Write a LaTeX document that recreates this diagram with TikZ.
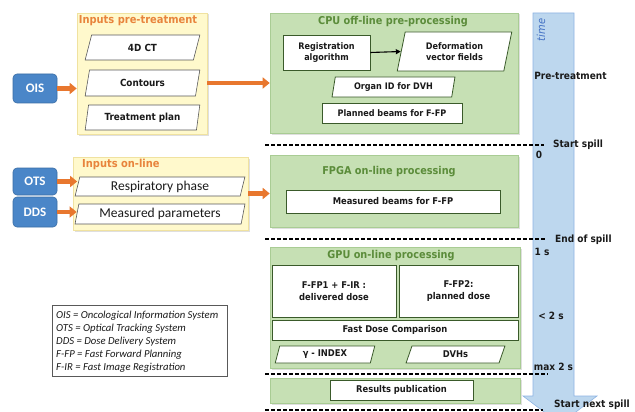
\documentclass[tikz,border=0pt]{standalone}
\usepackage{fontspec}
\setmainfont{DejaVu Sans Condensed}
\newfontfamily\calfont{Carlito}
\usetikzlibrary{shapes.geometric,arrows.meta,shadows}

\definecolor{srcblue}{HTML}{4A86C8}
\definecolor{srcline}{HTML}{3A6EA5}
\definecolor{feedorange}{HTML}{E8772E}
\definecolor{ytitle}{HTML}{E8843C}
\definecolor{yfill}{HTML}{FFF9CC}
\definecolor{yline}{HTML}{F0E2A0}
\definecolor{gfill}{HTML}{C6E0B4}
\definecolor{gline}{HTML}{A9CC94}
\definecolor{gtitle}{HTML}{5B8C3A}
\definecolor{boxline}{HTML}{3A5A2A}
\definecolor{timefill}{HTML}{BDD7EE}
\definecolor{timeline}{HTML}{8EB4E3}
\definecolor{timetext}{HTML}{4472C4}
\definecolor{txt}{HTML}{1A1A1A}

\tikzset{
  panel/.style={rectangle, inner sep=0pt,
    drop shadow={opacity=0.25, shadow xshift=1.5pt, shadow yshift=-1.5pt}},
  greenpanel/.style={panel, fill=gfill, draw=gline, line width=0.6pt},
  yellowpanel/.style={panel, fill=yfill, draw=yline, line width=0.6pt},
  gtitlestyle/.style={text=gtitle, font=\bfseries\fontsize{10.8}{13}\selectfont, inner sep=0pt},
  ytitlestyle/.style={text=ytitle, font=\bfseries\fontsize{11}{13}\selectfont, inner sep=0pt},
  boxfont/.style={font=\bfseries\fontsize{9.3}{11.5}\selectfont},
  whitebox/.style={rectangle, draw=boxline, fill=white, line width=0.8pt,
    text=txt, boxfont, align=center, inner sep=1pt},
  slantbox/.style={trapezium, trapezium left angle=76, trapezium right angle=104,
    trapezium stretches=true, draw=boxline, fill=white, line width=0.8pt,
    text=txt, boxfont, align=center, inner sep=0pt},
  cpufont/.style={font=\bfseries\fontsize{9}{11.5}\selectfont},
  inslant/.style={slantbox, draw=black!65, line width=0.6pt,
    font=\bfseries\fontsize{9.8}{12}\selectfont},
  inslantcal/.style={inslant, font=\calfont\fontsize{13.5}{15}\selectfont},
  srcbox/.style={rectangle, rounded corners=4pt, fill=srcblue, draw=srcline,
    line width=0.6pt, text=white, font=\calfont\bfseries\fontsize{13}{15}\selectfont,
    minimum width=44pt, inner sep=0pt},
  feed/.style={draw=feedorange, line width=4.5pt,
    -{Triangle[length=7pt,width=11pt]}},
  thin link/.style={draw=black, line width=1.1pt, -{Triangle[length=5pt,width=5pt]}},
  spill/.style={draw=black, line width=1.2pt, dash pattern=on 4pt off 2pt},
  timelabel/.style={text=txt, font=\bfseries\fontsize{10}{12}\selectfont, inner sep=0pt},
  legendtext/.style={font=\calfont\itshape\fontsize{10.7}{13}\selectfont, text=txt,
    align=left, inner sep=0pt, anchor=west}
}

\begin{document}
\begin{tikzpicture}[x=1pt,y=-1pt]
\useasboundingbox (0,0) rectangle (635,412);
\fill[white] (0,0) rectangle (635,412);

% time axis
\filldraw[fill=timefill, draw=timeline, line width=0.6pt]
  (533,13) -- (574,13) -- (574,396) -- (597,396) -- (560,424)
  -- (523,396) -- (533,396) -- cycle;
\node[rotate=90, text=timetext, font=\itshape\fontsize{11}{13}\selectfont, inner sep=0pt]
  (timelbl) at (541,30) {time};

% pre-treatment inputs
\node[yellowpanel, minimum width=130pt, minimum height=121pt] (prepanel) at (142,73.5) {};
\node[ytitlestyle] (pretitle) at (138,20.5) {Inputs pre-treatment};
\node[inslant, minimum width=115pt, minimum height=25pt] (ct) at (142.5,47.5) {4D CT};
\node[inslant, minimum width=115pt, minimum height=26pt] (contours) at (142.5,83) {Contours};
\node[inslant, minimum width=115pt, minimum height=25pt] (plan) at (142.5,117.5) {Treatment plan};
\node[srcbox, minimum height=29pt] (ois) at (35,88.5) {OIS};

% CPU off-line pre-processing
\node[greenpanel, minimum width=248pt, minimum height=120pt] (cpu) at (394,73) {};
\node[gtitlestyle] (cputitle) at (393,22) {CPU off-line pre-processing};
\node[whitebox, cpufont, minimum width=87pt, minimum height=35pt] (reg) at (326.5,52.5)
  {Registration\\algorithm};
\node[slantbox, cpufont, minimum width=115pt, minimum height=39pt] (dvf) at (454.5,51.5)
  {Deformation\\vector fields};
\node[slantbox, cpufont, minimum width=123pt, minimum height=20pt] (organ) at (393.5,87)
  {Organ ID for DVH};
\node[whitebox, cpufont, minimum width=140pt, minimum height=20pt] (planned) at (392,113)
  {Planned beams for F-FP};

% on-line inputs
\node[yellowpanel, minimum width=175pt, minimum height=73pt] (onpanel) at (160.5,193.5) {};
\node[ytitlestyle, anchor=west] (ontitle) at (82,164) {Inputs on-line};
\node[inslantcal, minimum width=170pt, minimum height=19pt] (resp) at (160,186.5)
  {Respiratory phase};
\node[inslantcal, minimum width=170pt, minimum height=20pt] (meas) at (160,214)
  {Measured parameters};
\node[srcbox, minimum height=27pt] (ots) at (35,181.5) {OTS};
\node[srcbox, minimum height=30pt] (dds) at (35,212) {DDS};

% FPGA on-line processing
\node[greenpanel, minimum width=248pt, minimum height=72pt] (fpga) at (394,191) {};
\node[gtitlestyle] (fpgatitle) at (389,172) {FPGA on-line processing};
\node[whitebox, minimum width=214pt, minimum height=23pt] (mbeams) at (393,201.5)
  {Measured beams for F-FP};

% GPU on-line processing
\node[greenpanel, minimum width=250pt, minimum height=121pt] (gpu) at (395,307.5) {};
\node[gtitlestyle] (gputitle) at (391,256) {GPU on-line processing};
\node[whitebox, minimum width=124pt, minimum height=52pt] (ffp1) at (334,291)
  {F-FP1 + F-IR :\\delivered dose};
\node[whitebox, minimum width=119pt, minimum height=52pt] (ffp2) at (458.5,291)
  {F-FP2:\\planned dose};
\node[whitebox, minimum width=246pt, minimum height=20pt] (fdc) at (395,330)
  {Fast Dose Comparison};
\node[slantbox, minimum width=100pt, minimum height=17pt] (gamma) at (325,354.5)
  {γ - INDEX};
\node[slantbox, minimum width=99pt, minimum height=17pt] (dvh) at (455.5,354.5)
  {DVHs};

% results
\node[greenpanel, minimum width=250pt, minimum height=25pt] (respanel) at (395,390.5) {};
\node[whitebox, minimum width=143pt, minimum height=20pt] (pub) at (401.5,390)
  {Results publication};

% feeds
\draw[feed] (ois.east) -- (ois.east -| prepanel.west);
\draw[feed] (contours -| prepanel.east) -- (contours -| cpu.west);
\draw[feed] (ots.east) -- (ots.east -| resp.west);
\draw[feed] (dds.east) -- (dds.east -| meas.west);
\draw[feed] (onpanel.east) -- (onpanel.east -| fpga.west);
\draw[thin link] (reg.east) -- (dvf.west);

% spill markers
\coordinate (s1a) at (265,145);  \coordinate (s1b) at (544,145);
\coordinate (s2a) at (265,239);  \coordinate (s2b) at (546,239);
\coordinate (s3a) at (265,374);  \coordinate (s3b) at (548,374);
\coordinate (s4a) at (265,410);  \coordinate (s4b) at (543,410);
\draw[spill] (s1a) -- (s1b);
\draw[spill] (s2a) -- (s2b);
\draw[spill] (s3a) -- (s3b);
\draw[spill] (s4a) -- (s4b);

% time labels
\node[timelabel] (lpre) at (570.5,76) {Pre-treatment};
\node[timelabel, anchor=west] (lstart) at (553,145) {Start spill};
\node[timelabel] (lzero) at (539,155) {0};
\node[timelabel, anchor=west] (lend) at (555,240) {End of spill};
\node[timelabel] (lone) at (542,252) {1 s};
\node[timelabel] (lless) at (551,316) {< 2 s};
\node[timelabel] (lmax) at (553.5,367) {max 2 s};
\node[timelabel, anchor=west] (lnext) at (554,404.5) {Start next spill};

% legend
\node[rectangle, draw=black!65, line width=0.6pt, minimum width=175pt,
  minimum height=71pt, inner sep=0pt] (legend) at (139.5,340.5) {};
\node[legendtext] (leg1) at (56,315.5) {OIS = Oncological Information System};
\node[legendtext] (leg2) at (56,328.5) {OTS = Optical Tracking System};
\node[legendtext] (leg3) at (56,341.5) {DDS = Dose Delivery System};
\node[legendtext] (leg4) at (56,354.5) {F-FP = Fast Forward Planning};
\node[legendtext] (leg5) at (56,367.5) {F-IR = Fast Image Registration};
\end{tikzpicture}
\end{document}
